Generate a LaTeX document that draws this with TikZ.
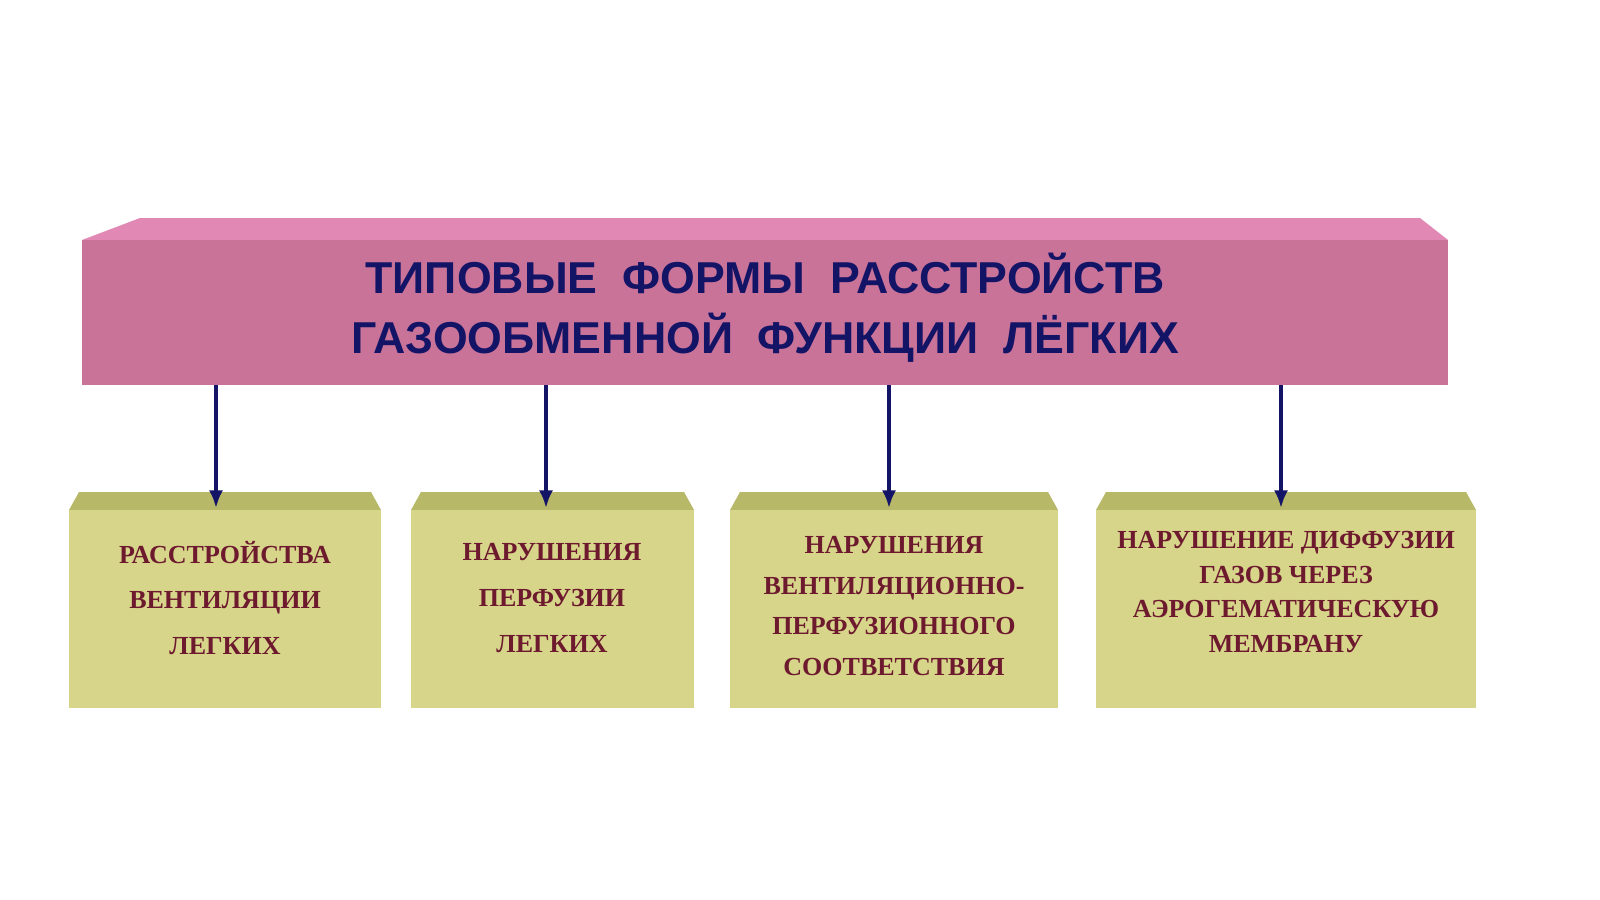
\documentclass[tikz,border=0pt]{standalone}
\usepackage{fontspec}
\setmainfont{Liberation Serif}
\newfontfamily\titlefont{Liberation Sans}
\begin{document}
\begin{tikzpicture}[x=0.01cm,y=-0.01cm,
  topc/.style={fill=pinkmain},
  sub/.style={fill=khaki},
  txt/.style={align=center,font=\bfseries\fontsize{7.4}{13}\selectfont,text=subtext},
  arr/.style={draw=navy,line width=1.2pt,-{Latex[length=5pt,width=4pt]}}]
\definecolor{pinkmain}{HTML}{C97399}
\definecolor{pinktop}{HTML}{E288B5}
\definecolor{khaki}{HTML}{D6D58A}
\definecolor{khakitop}{HTML}{B7B868}
\definecolor{navy}{HTML}{141466}
\definecolor{subtext}{HTML}{6E1A2E}
\usetikzlibrary{arrows.meta}
\useasboundingbox (0,0) rectangle (1600,899);
\fill[white] (0,0) rectangle (1600,899);
% top box
\fill[pinktop] (82,240) -- (140,218) -- (1420,218) -- (1448,240) -- cycle;
\path[topc] (82,240) rectangle (1448,385);
\node[inner sep=0,align=center,text=navy,font=\titlefont\bfseries\fontsize{12.7}{17}\selectfont] (top) at (765,308) {ТИПОВЫЕ\ \ ФОРМЫ\ \ РАССТРОЙСТВ\\ГАЗООБМЕННОЙ\ \ ФУНКЦИИ\ \ ЛЁГКИХ};
% sub boxes
\foreach \n/\a/\b in {1/69/381,2/411/694,3/730/1058,4/1096/1476}{
  \fill[khakitop] (\a,510) -- (\a+10,492) -- (\b-10,492) -- (\b,510) -- cycle;
  \path[sub] (\a,510) rectangle (\b,708);
}
\node[txt] (n1) at (225,598) {РАССТРОЙСТВА\\ВЕНТИЛЯЦИИ\\ЛЕГКИХ};
\node[txt] (n2) at (552,598) {НАРУШЕНИЯ\\ПЕРФУЗИИ\\ЛЕГКИХ};
\node[txt,font=\bfseries\fontsize{7.4}{11.6}\selectfont] (n3) at (894,606) {НАРУШЕНИЯ\\ВЕНТИЛЯЦИОННО-\\ПЕРФУЗИОННОГО\\СООТВЕТСТВИЯ};
\node[txt,font=\bfseries\fontsize{7.4}{9.8}\selectfont] (n4) at (1286,592) {НАРУШЕНИЕ ДИФФУЗИИ\\ГАЗОВ ЧЕРЕЗ\\АЭРОГЕМАТИЧЕСКУЮ\\МЕМБРАНУ};
\coordinate (s1) at (216,385); \coordinate (e1) at (216,508);
\coordinate (s2) at (546,385); \coordinate (e2) at (546,508);
\coordinate (s3) at (889,385); \coordinate (e3) at (889,508);
\coordinate (s4) at (1281,385); \coordinate (e4) at (1281,508);
\foreach \i in {1,...,4}{\draw[arr] (s\i) -- (e\i);}
\end{tikzpicture}
\end{document}
